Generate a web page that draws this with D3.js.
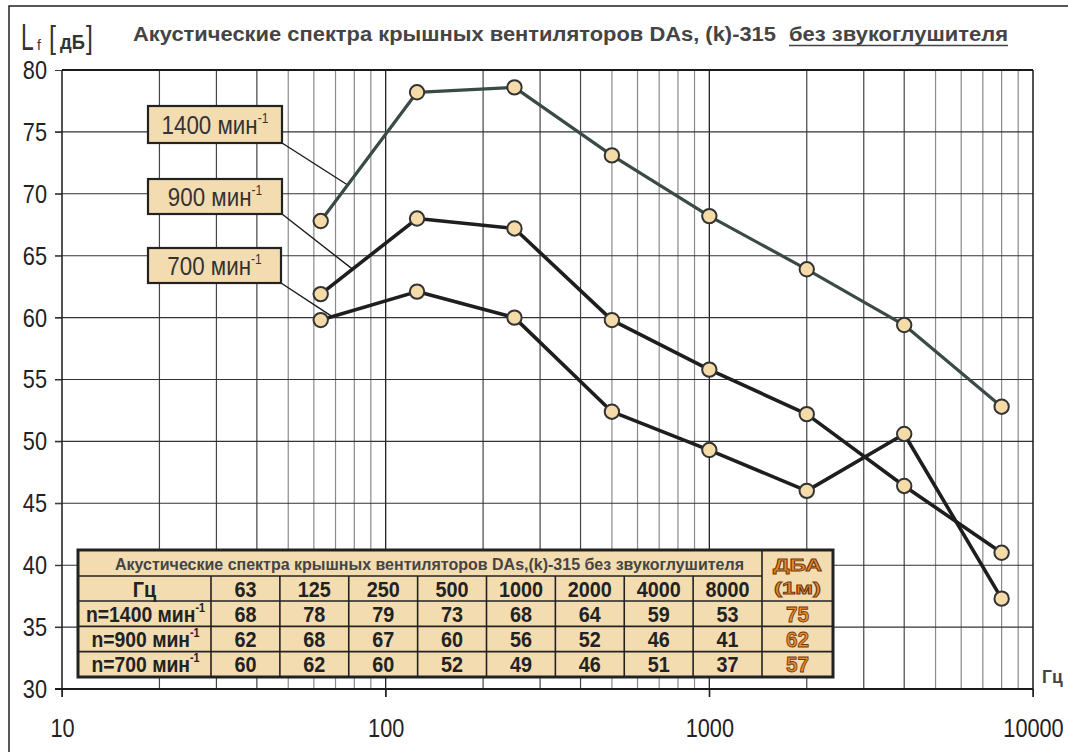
<!DOCTYPE html>
<html>
<head>
<meta charset="utf-8">
<script src="https://cdn.jsdelivr.net/npm/d3@7"></script>
<style>
body { margin: 0; background: #fff; }
svg { display: block; }
</style>
</head>
<body>
<svg id="chart" width="1068" height="752"></svg>
<script>
const width = 1068;
const height = 752;

// octave band centre frequencies, Hz
const freqs = [63, 125, 250, 500, 1000, 2000, 4000, 8000];
const speeds = ["1400", "900", "700"];

// levels, dB
const level1400 = [67.8, 78.2, 78.6, 73.1, 68.2, 63.9, 59.4, 52.8];
const level900 = [61.9, 68.0, 67.2, 59.8, 55.8, 52.2, 46.4, 41.0];
const level700 = [59.8, 62.1, 60.0, 52.4, 49.3, 46.0, 50.6, 37.3];

// values printed in the table
const table1400 = [68, 78, 79, 73, 68, 64, 59, 53];
const table900 = [62, 68, 67, 60, 56, 52, 46, 41];
const table700 = [60, 62, 60, 52, 49, 46, 51, 37];
const dba = [75, 62, 57];

const yTicks = [30, 35, 40, 45, 50, 55, 60, 65, 70, 75, 80];
const xTicks = [10, 100, 1000, 10000];

const titleMain = "Акустические спектра крышных вентиляторов DAs, (k)-315";
const titleUnder = "без звукоглушителя";
const tableTitle = "Акустические спектра крышных вентиляторов DAs,(k)-315  без звукоглушителя";

const sans = "'Liberation Sans', Arial, sans-serif";
const wheat = "#f4dcb1";
const NARROW = 0.82;

const svg = d3.select("#chart");

const x = d3.scaleLog().domain([10, 10000]).range([62, 1033]);
const y = d3.scaleLinear().domain([30, 80]).range([689, 70]);

// text squeezed horizontally, the original uses a narrow face
function narrowText(parent, px, py, sx) {
    return parent.append("text")
        .attr("transform", "translate(" + px + "," + py + ") scale(" + sx + ",1)")
        .attr("font-family", sans);
}

// outer frame (only top and left visible)
svg.append("rect")
    .attr("x", 9).attr("y", 6)
    .attr("width", 1100).attr("height", 800)
    .attr("fill", "none").attr("stroke", "#222").attr("stroke-width", 1.5);

// vertical log grid
const grid = svg.append("g");
x.ticks().forEach((t) => {
    const lg = Math.log10(t);
    if (t <= 10 || t >= 10000) return;
    const major = Math.abs(lg - Math.round(lg)) < 1e-9;
    const lead = Math.round(t / Math.pow(10, Math.floor(lg + 1e-9)));
    grid.append("line")
        .attr("x1", x(t)).attr("x2", x(t))
        .attr("y1", y(80)).attr("y2", major ? 697 : y(30))
        .attr("stroke", major ? "#222" : (lead <= 4 ? "#444" : "#8a8a8a"))
        .attr("stroke-width", major ? 1.3 : 1.2);
});

// horizontal grid
yTicks.filter((v) => v > 30 && v < 80).forEach((v) => {
    grid.append("line")
        .attr("x1", 55).attr("x2", x(10000))
        .attr("y1", y(v)).attr("y2", y(v))
        .attr("stroke", "#333").attr("stroke-width", 1.1);
});

// frame
svg.append("line").attr("x1", x(10)).attr("x2", x(10000)).attr("y1", y(80)).attr("y2", y(80))
    .attr("stroke", "#1a1a1a").attr("stroke-width", 2);
svg.append("line").attr("x1", x(10)).attr("x2", x(10)).attr("y1", y(80)).attr("y2", 697)
    .attr("stroke", "#1a1a1a").attr("stroke-width", 1.5);
svg.append("line").attr("x1", x(10000)).attr("x2", x(10000)).attr("y1", y(80)).attr("y2", 697)
    .attr("stroke", "#1a1a1a").attr("stroke-width", 1.5);

// axes
const yAxis = svg.append("g")
    .attr("transform", "translate(" + x(10) + ",0)")
    .call(d3.axisLeft(y).tickValues(yTicks).tickSize(7).tickPadding(8));
yAxis.select(".domain").remove();
yAxis.selectAll("line").attr("stroke", "#333");
yAxis.selectAll("text")
    .attr("x", -15 / NARROW)
    .attr("transform", "scale(" + NARROW + ",1)")
    .attr("font-family", sans).attr("font-size", 26.5).attr("fill", "#222");

const xAxis = svg.append("g")
    .attr("transform", "translate(0," + y(30) + ")")
    .call(d3.axisBottom(x).tickValues(xTicks).tickSize(8).tickPadding(21).tickFormat(d3.format("d")));
xAxis.select(".domain").remove();
xAxis.selectAll("line").attr("stroke", "#222");
xAxis.selectAll("text")
    .attr("transform", "scale(" + NARROW + ",1)")
    .attr("font-family", sans).attr("font-size", 26.5).attr("fill", "#222");

svg.append("line").attr("x1", 55).attr("x2", x(10000)).attr("y1", y(30)).attr("y2", y(30))
    .attr("stroke", "#1a1a1a").attr("stroke-width", 2);

// series
const series = [
    { name: "1400", values: level1400, color: "#3a4a47", width: 3.2 },
    { name: "900", values: level900, color: "#1e1e1e", width: 3.6 },
    { name: "700", values: level700, color: "#1e1e1e", width: 3.6 }
];

// label boxes with leader lines
const labels = [
    { name: "1400", box: [148, 106, 134, 37], t: 0.28 },
    { name: "900", box: [148, 179, 134, 35], t: 0.33 },
    { name: "700", box: [148, 248, 133, 35], t: 0.12 }
];
labels.forEach((lb, i) => {
    const v = series[i].values;
    const px = x(freqs[0]) + lb.t * (x(freqs[1]) - x(freqs[0]));
    const py = y(v[0]) + lb.t * (y(v[1]) - y(v[0]));
    svg.append("line")
        .attr("x1", lb.box[0] + lb.box[2]).attr("y1", lb.box[1] + lb.box[3])
        .attr("x2", px).attr("y2", py)
        .attr("stroke", "#1a1a1a").attr("stroke-width", 1.4);
});

const line = d3.line()
    .x((d) => x(d.f))
    .y((d) => y(d.v));

series.forEach((s) => {
    const pts = freqs.map((f, i) => ({ f: f, v: s.values[i] }));
    svg.append("path")
        .datum(pts)
        .attr("d", line)
        .attr("fill", "none")
        .attr("stroke", s.color)
        .attr("stroke-width", s.width)
        .attr("stroke-linejoin", "round");
    svg.selectAll(null)
        .data(pts)
        .enter().append("circle")
        .attr("cx", (d) => x(d.f))
        .attr("cy", (d) => y(d.v))
        .attr("r", 7.2)
        .attr("fill", "#f5dba8")
        .attr("stroke", "#333")
        .attr("stroke-width", 2);
});

labels.forEach((lb) => {
    svg.append("rect")
        .attr("x", lb.box[0]).attr("y", lb.box[1])
        .attr("width", lb.box[2]).attr("height", lb.box[3])
        .attr("fill", wheat).attr("stroke", "#222").attr("stroke-width", 2.2);
    const t = narrowText(svg, lb.box[0] + lb.box[2] / 2, lb.box[1] + lb.box[3] / 2 + 9, 0.86)
        .attr("text-anchor", "middle")
        .attr("font-size", 26).attr("fill", "#333");
    t.append("tspan").text(lb.name + " мин");
    t.append("tspan").attr("font-size", 14).attr("dy", -11).text("-1");
});

// y axis caption
narrowText(svg, 21, 50, 0.62).attr("font-size", 37).attr("fill", "#333").text("L");
svg.append("text").attr("x", 37).attr("y", 50)
    .attr("font-family", sans).attr("font-size", 14).attr("fill", "#333").text("f");
narrowText(svg, 49, 48, 0.8).attr("font-size", 31).attr("fill", "#333").text("[");
narrowText(svg, 60, 49, 0.92).attr("font-size", 20).attr("font-weight", "bold").attr("fill", "#333").text("дБ");
narrowText(svg, 86, 48, 0.8).attr("font-size", 31).attr("fill", "#333").text("]");

// title
svg.append("text").attr("x", 133).attr("y", 41)
    .attr("font-family", sans).attr("font-size", 19.5).attr("font-weight", "bold").attr("fill", "#444")
    .attr("textLength", 643).attr("lengthAdjust", "spacingAndGlyphs").text(titleMain);
svg.append("text").attr("x", 789).attr("y", 41)
    .attr("font-family", sans).attr("font-size", 19.5).attr("font-weight", "bold").attr("fill", "#444")
    .attr("textLength", 219).attr("lengthAdjust", "spacingAndGlyphs").text(titleUnder);
svg.append("line").attr("x1", 789).attr("x2", 1008).attr("y1", 45.5).attr("y2", 45.5)
    .attr("stroke", "#444").attr("stroke-width", 1.6);

narrowText(svg, 1042, 683, 0.92).attr("font-size", 19).attr("font-weight", "bold").attr("fill", "#444").text("Гц");

// table
const tbl = { x0: 78, x1: 833, yTitle: 550, yHead: 576, yRows: 601, y1: 677, firstCol: 211, dbaCol: 762 };
const colX = d3.scaleBand().domain(freqs).range([tbl.firstCol, tbl.dbaCol]);
const rowY = d3.scaleBand().domain(speeds).range([tbl.yRows, tbl.y1]);
const tableRows = [table1400, table900, table700];

const tg = svg.append("g");
tg.append("rect")
    .attr("x", tbl.x0).attr("y", tbl.yTitle)
    .attr("width", tbl.x1 - tbl.x0).attr("height", tbl.y1 - tbl.yTitle)
    .attr("fill", wheat);

const rule = (x1, y1, x2, y2) => tg.append("line")
    .attr("x1", x1).attr("y1", y1).attr("x2", x2).attr("y2", y2)
    .attr("stroke", "#222").attr("stroke-width", 1.6);
rule(tbl.x0, tbl.yHead, tbl.dbaCol, tbl.yHead);
rule(tbl.x0, tbl.yRows, tbl.x1, tbl.yRows);
speeds.slice(1).forEach((s) => rule(tbl.x0, rowY(s), tbl.x1, rowY(s)));
rule(tbl.firstCol, tbl.yHead, tbl.firstCol, tbl.y1);
freqs.slice(1).forEach((f) => rule(colX(f), tbl.yHead, colX(f), tbl.y1));
rule(tbl.dbaCol, tbl.yTitle, tbl.dbaCol, tbl.y1);

tg.append("rect")
    .attr("x", tbl.x0).attr("y", tbl.yTitle)
    .attr("width", tbl.x1 - tbl.x0).attr("height", tbl.y1 - tbl.yTitle)
    .attr("fill", "none").attr("stroke", "#222").attr("stroke-width", 3);

tg.append("text")
    .attr("x", 115).attr("y", tbl.yTitle + 19.5)
    .attr("font-family", sans).attr("font-size", 16.5).attr("font-weight", "bold").attr("fill", "#444")
    .attr("textLength", 629).attr("lengthAdjust", "spacingAndGlyphs")
    .text(tableTitle);

const cellText = (cx, cy, txt) => narrowText(tg, cx, cy, 0.9)
    .attr("text-anchor", "middle")
    .attr("font-size", 22).attr("font-weight", "bold").attr("fill", "#222")
    .text(txt);

cellText((tbl.x0 + tbl.firstCol) / 2, tbl.yHead + 20.5, "Гц");
freqs.forEach((f) => cellText(colX(f) + colX.bandwidth() / 2, tbl.yHead + 20.5, f));

speeds.forEach((s, r) => {
    const cy = rowY(s) + 20.5;
    const lbl = narrowText(tg, (tbl.x0 + tbl.firstCol) / 2 + 1, cy, 0.9)
        .attr("text-anchor", "middle")
        .attr("font-size", 21.5).attr("font-weight", "bold").attr("fill", "#222");
    lbl.append("tspan").text("n=" + s + " мин");
    lbl.append("tspan").attr("font-size", 12).attr("dy", -10).text("-1");
    freqs.forEach((f, i) => cellText(colX(f) + colX.bandwidth() / 2, cy, tableRows[r][i]));
});

const orange = (cx, cy, txt, size, len) => {
    const t = tg.append("text")
        .attr("x", cx - len / 2).attr("y", cy)
        .attr("font-family", sans).attr("font-size", size).attr("font-weight", "bold")
        .attr("fill", "#f08a2a").attr("stroke", "#6b3b12").attr("stroke-width", 0.9)
        .attr("textLength", len).attr("lengthAdjust", "spacingAndGlyphs")
        .text(txt);
    return t;
};
const dbaX = (tbl.dbaCol + tbl.x1) / 2;
orange(dbaX, 571, "ДБА", 17, 49);
orange(dbaX, 594, "(1м)", 17, 47);
speeds.forEach((s, r) => orange(dbaX, rowY(s) + 20.5, dba[r], 22, 23));
</script>
</body>
</html>
